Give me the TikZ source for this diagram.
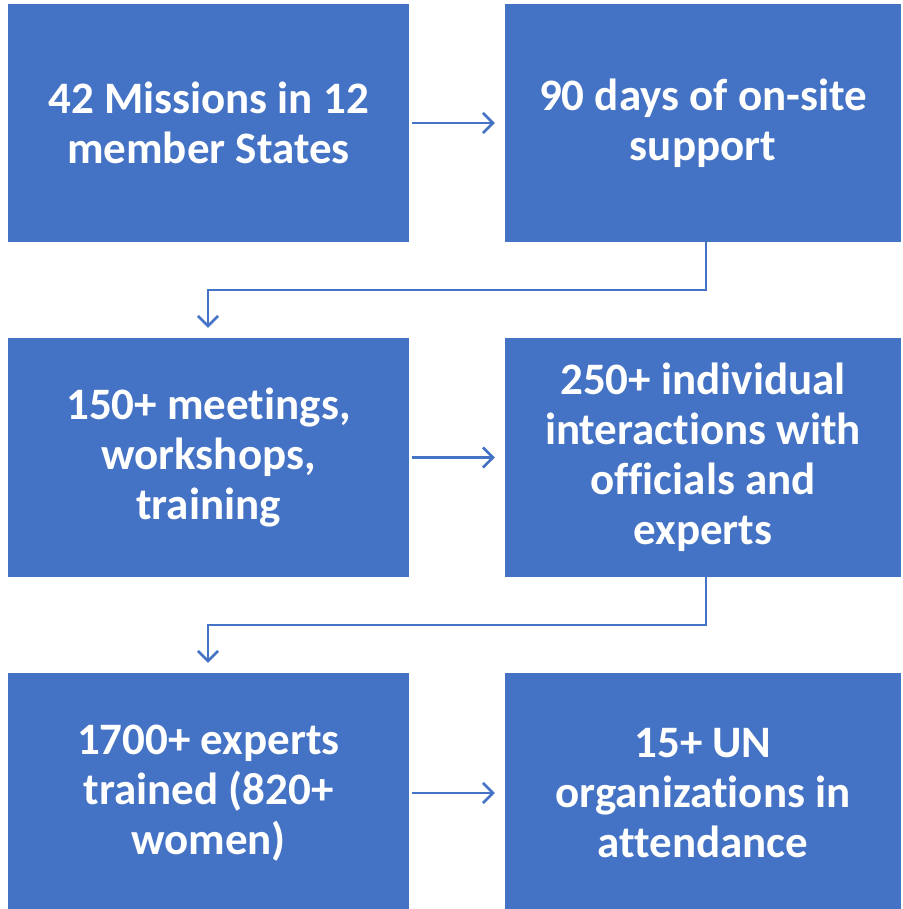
\documentclass[tikz,border=0pt]{standalone}
\usepackage{fontspec}
\setmainfont{Carlito}[Ligatures={NoCommon}]
\usetikzlibrary{arrows.meta}
\definecolor{boxblue}{HTML}{4472C4}
\tikzset{
  box/.style={fill=boxblue, draw=none, minimum width=401pt, minimum height=238pt,
    inner sep=0pt, text=white, align=center,
    font=\bfseries\fontsize{45}{50}\selectfont},
  link/.style={draw=boxblue, line width=2.8pt,
    -{Straight Barb[length=10pt,width=20pt,line width=2.6pt]}}
}
\begin{document}
\begin{tikzpicture}[x=1pt,y=-1pt]
\useasboundingbox (0,0) rectangle (902,909);
\fill[white] (0,0) rectangle (902,909);
\begin{scope}
\clip (0,0) rectangle (902,909);
\node[box] (b1) at (208.5,123) {42 Missions in 12\\member States};
\node[box, minimum width=396pt] (b2) at (703,123) {90 days of on-site\\support};
\node[box, minimum height=239pt] (b3) at (208.5,457.5) {150+ meetings,\\workshops,\\training};
\node[box, minimum width=396pt, minimum height=239pt] (b4) at (703,457.5) {250+ individual\\interactions with\\officials and\\experts};
\node[box, minimum height=240pt] (b5) at (208.5,793) {1700+ experts\\trained (820+\\women)};
\node[box, minimum width=396pt, minimum height=240pt] (b6) at (703,793) {15+ UN\\organizations in\\attendance};
\end{scope}
\coordinate (e1) at (706,290);
\coordinate (e2) at (208,290);
\coordinate (e3) at (706,625);
\coordinate (e4) at (208,625);
\draw[link] ([xshift=3pt]b1.east) -- ([xshift=-10pt]b2.west);
\draw[link] ([xshift=3pt]b3.east) -- ([xshift=-10pt]b4.west);
\draw[link] ([xshift=3pt]b5.east) -- ([xshift=-10pt]b6.west);
\draw[link] ([xshift=3pt]b2.south) -- (e1) -- (e2) -- ([xshift=-0.5pt,yshift=10pt]b3.north);
\draw[link] ([xshift=3pt]b4.south) -- (e3) -- (e4) -- ([xshift=-0.5pt,yshift=10pt]b5.north);
\end{tikzpicture}
\end{document}
